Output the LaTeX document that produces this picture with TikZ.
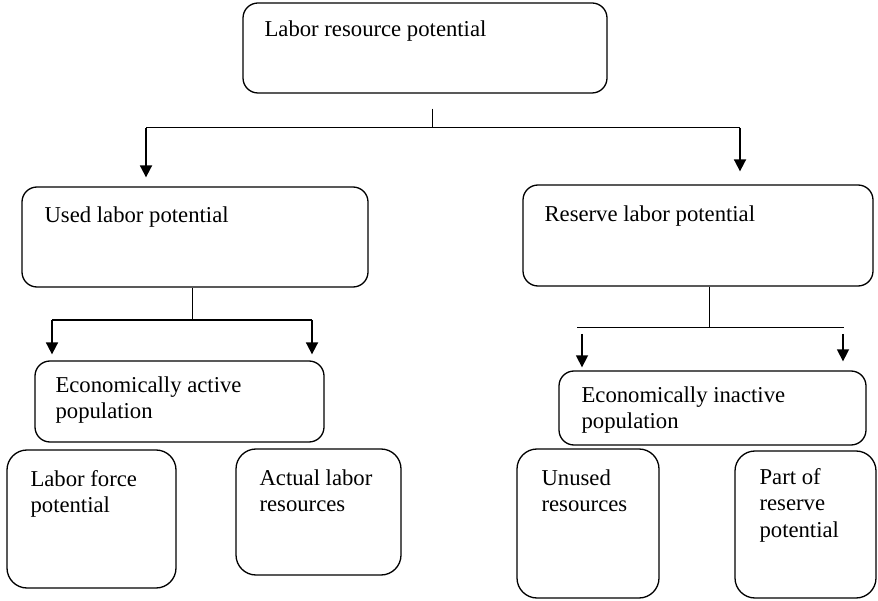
\documentclass[tikz,border=0pt]{standalone}
\usepackage{fontspec}
\setmainfont{Liberation Serif}
\usetikzlibrary{arrows.meta}
\usetikzlibrary{calc,positioning}
\tikzset{%
  >={Triangle[width=12pt,length=12pt]},
  % Specifications for style of nodes:
  base/.style = {rectangle, rounded corners=15pt, draw=black,
    line width=1.3pt, inner sep=0pt},
  small/.style = {base, rounded corners=20pt},
  txt/.style = {anchor=base west, inner sep=0pt, align=left,
    font=\fontsize{22.7}{26.5}\selectfont},
  link/.style = {draw=black, line width=1pt},
  arrow/.style = {->, draw=black, line width=1.8pt},
}

\begin{document}
\begin{tikzpicture}[x=1pt,y=-1pt]
        \useasboundingbox (0,0) rectangle (878,601);
        % Specification of nodes (position, etc.)
        \node(LRP)[base, minimum width=364pt, minimum height=90pt] at (425,48) {};
        \node(Used)[base, minimum width=346pt, minimum height=100pt] at (195,237) {};
        \node(Res)[base, minimum width=350pt, minimum height=101pt] at (698,235.5) {};
        \node(Act)[base, minimum width=289pt, minimum height=81pt] at (179.5,401.5) {};
        \node(Inact)[base, minimum width=307pt, minimum height=74pt] at (712.5,408) {};
        \node(LF)[small, minimum width=169pt, minimum height=138pt] at (91.5,519) {};
        \node(ALR)[small, minimum width=165pt, minimum height=126pt] at (318.5,512) {};
        \node(Unu)[small, minimum width=142pt, minimum height=149pt] at (588,523.5) {};
        \node(Part)[small, minimum width=141pt, minimum height=147pt] at (805.5,524.5) {};
        % texts (base = baseline of the last line)
        \node(LRPt)[txt] at ($(LRP.north west)+(22,34)$) {Labor resource potential};
        \node(Usedt)[txt] at ($(Used.north west)+(23,36)$) {Used labor potential};
        \node(Rest)[txt] at ($(Res.north west)+(22,37)$) {Reserve labor potential};
        \node(Actt)[txt] at ($(Act.north west)+(21,58.5)$) {Economically active\\population};
        \node(Inactt)[txt] at ($(Inact.north west)+(23,58.5)$) {Economically inactive\\population};
        \node(LFt)[txt] at ($(LF.north west)+(24,63.5)$) {Labor force\\potential};
        \node(ALRt)[txt] at ($(ALR.north west)+(24,63.5)$) {Actual labor\\resources};
        \node(Unut)[txt] at ($(Unu.north west)+(25,63.5)$) {Unused\\resources};
        \node(Partt)[txt] at ($(Part.north west)+(25,87)$) {Part of\\reserve\\potential};
        % connectors
        \coordinate(topL) at (146,128);
        \coordinate(topR) at (740,128);
        \draw[link, line width=0.8pt] ([xshift=7pt,yshift=-15pt]LRP.south) -- ([xshift=7pt]LRP.south |- topL);
        \draw[link] (topL) -- (topR);
        \draw[arrow] (topL) -- ([yshift=9pt]Used.north -| topL);
        \draw[arrow] (topR) -- ([yshift=13pt]Res.north -| topR);
        \coordinate(usedL) at (52,320);
        \coordinate(usedR) at (312,320);
        \draw[link] ([xshift=-3pt]Used.south) -- ([xshift=-3pt]Used.south |- usedL);
        \draw[link, line width=1.6pt] (usedL) -- (usedR);
        \draw[arrow] (usedL) -- ([yshift=6pt]Act.north -| usedL);
        \draw[arrow] (usedR) -- ([yshift=6pt]Act.north -| usedR);
        \coordinate(resL) at (577,328);
        \coordinate(resR) at (844,328);
        \draw[link] ([xshift=11pt]Res.south) -- ([xshift=11pt]Res.south |- resL);
        \draw[link] (resL) -- (resR);
        \draw[arrow, line width=1.5pt] ([xshift=5pt,yshift=-6pt]resL) -- ([yshift=3pt]Inact.north -| 582,0);
        \draw[arrow, line width=1.5pt] ([xshift=-1pt,yshift=-6pt]resR) -- ([yshift=9pt]Inact.north -| 843,0);
    \end{tikzpicture}
\end{document}
